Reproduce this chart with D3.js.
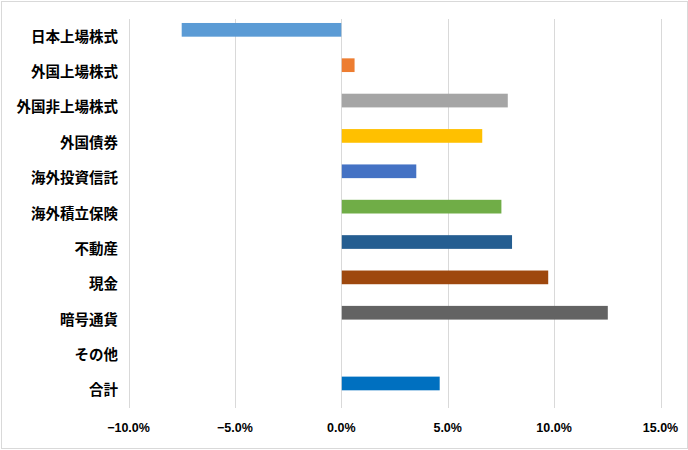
<!DOCTYPE html>
<html><head><meta charset="utf-8">
<script src="https://cdn.jsdelivr.net/npm/d3@7"></script>
<style>body{margin:0;background:#fff}svg{display:block}</style>
</head><body>
<script>
const categories = ["日本上場株式","外国上場株式","外国非上場株式","外国債券","海外投資信託","海外積立保険","不動産","現金","暗号通貨","その他","合計"];
const values = [-7.5, 0.6, 7.8, 6.6, 3.5, 7.5, 8.0, 9.7, 12.5, 0, 4.6];
const colors = ["#5B9BD5","#ED7D31","#A5A5A5","#FFC000","#4472C4","#70AD47","#255E91","#9E480E","#636363","#997300","#0070C0"];
const ticks = [-10, -5, 0, 5, 10, 15];

const W = 688, H = 450;
const svg = d3.select("body").append("svg").attr("width", W).attr("height", H);
svg.append("rect").attr("x",1.5).attr("y",1.5).attr("width",686).attr("height",447)
  .attr("fill","#fff").attr("stroke","#d9d9d9").attr("stroke-width",1);

const x = d3.scaleLinear().domain([-10, 15]).range([128.5, 660.5]);
const y = d3.scaleBand().domain(categories).range([19, 408]).padding(0);

// gridlines
svg.append("g").selectAll("line").data(ticks).join("line")
  .attr("x1", d => Math.round(x(d)) + 0.5).attr("x2", d => Math.round(x(d)) + 0.5)
  .attr("y1", 19).attr("y2", 408)
  .attr("stroke", "#d9d9d9").attr("stroke-width", 1);

// bars
const bh = 13.7;
svg.append("g").selectAll("rect").data(values).join("rect")
  .attr("x", d => Math.min(x(0), x(d)) + (d >= 0 ? 0.5 : 0))
  .attr("width", d => Math.abs(x(d) - x(0)))
  .attr("y", (d, i) => y(categories[i]) + y.bandwidth() / 2 - 13.7)
  .attr("height", bh)
  .attr("fill", (d, i) => colors[i]);

// category labels
svg.append("g").selectAll("text").data(categories).join("text")
  .attr("x", 118)
  .attr("y", d => y(d) + y.bandwidth() / 2 - 1.5)
  .attr("text-anchor", "end").attr("dominant-baseline", "central")
  .attr("font-family", "'Noto Sans CJK JP', sans-serif")
  .attr("font-weight", "bold").attr("font-size", "14.5px").attr("fill", "#000")
  .text(d => d);

// x tick labels
svg.append("g").selectAll("text").data(ticks).join("text")
  .attr("x", d => x(d))
  .attr("y", 428)
  .attr("text-anchor", "middle").attr("dominant-baseline", "central")
  .attr("font-family", "'Liberation Sans', Arial, sans-serif")
  .attr("font-weight", "bold").attr("font-size", "12.5px").attr("fill", "#000")
  .text(d => d3.format(".1f")(d) + "%");
</script>
</body></html>
